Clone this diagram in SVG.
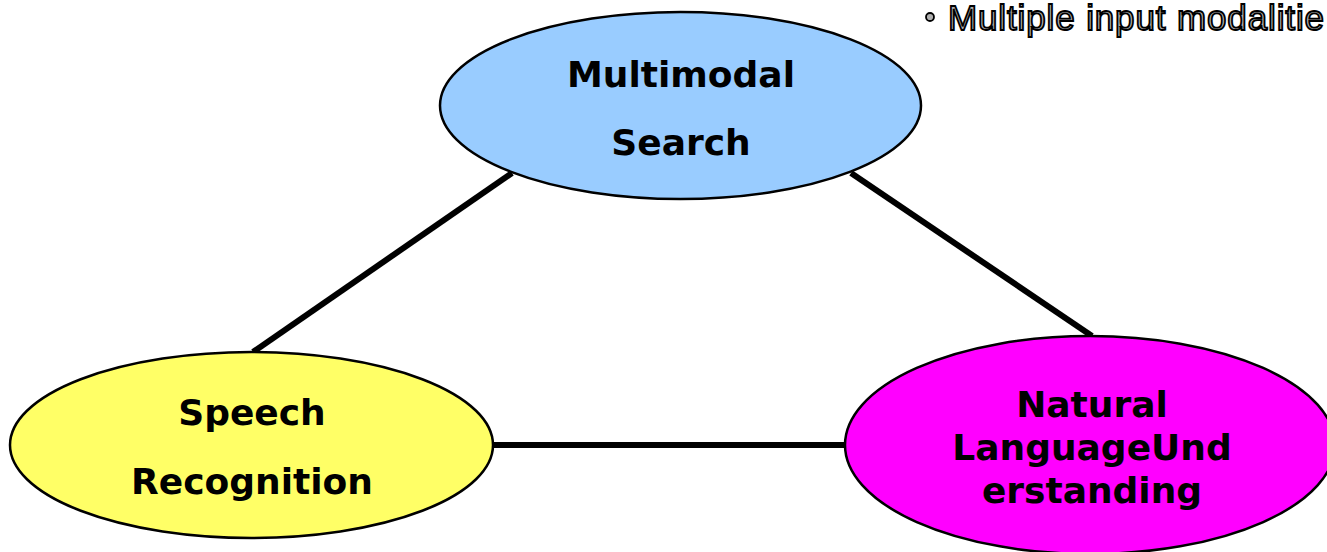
<svg xmlns="http://www.w3.org/2000/svg" width="1327" height="552" viewBox="0 0 1327 552">
<style>
.node{stroke:#000;stroke-width:2.5}
.lbl{font-family:"DejaVu Sans",Verdana,sans-serif;font-weight:bold;font-size:36px;fill:#000;text-anchor:middle}
.conn{stroke:#000;stroke-width:6;fill:none}
.note{font-family:"Liberation Sans",Arial,sans-serif;font-size:35px;fill:#b0b0b0;stroke:#000;stroke-width:1.8}
</style>
<rect width="1327" height="552" fill="#fff"/>
<g id="connectors">
<line class="conn" x1="512" y1="173" x2="253" y2="352"/>
<line class="conn" x1="851" y1="173" x2="1092" y2="336"/>
<line class="conn" x1="493" y1="445" x2="846" y2="445"/>
</g>
<g id="multimodal-search">
<ellipse class="node" cx="680.5" cy="105.5" rx="240.5" ry="93.5" fill="#99ccff"/>
<text class="lbl" x="681" y="87">Multimodal</text>
<text class="lbl" x="681" y="155">Search</text>
</g>
<g id="speech-recognition">
<ellipse class="node" cx="251.5" cy="445" rx="241.5" ry="93" fill="#ffff66"/>
<text class="lbl" x="252" y="425">Speech</text>
<text class="lbl" x="252" y="494">Recognition</text>
</g>
<g id="nlu">
<ellipse class="node" cx="1090" cy="445" rx="245" ry="109" fill="#ff00ff"/>
<text class="lbl" x="1092" y="417">Natural</text>
<text class="lbl" x="1092" y="460">LanguageUnd</text>
<text class="lbl" x="1092" y="503">erstanding</text>
</g>
<g id="note">
<circle cx="930" cy="17" r="4" fill="#b0b0b0" stroke="#000" stroke-width="1.8"/>
<text class="note" x="948" y="30" textLength="376" lengthAdjust="spacing">Multiple input modalitie</text>
</g>
</svg>
